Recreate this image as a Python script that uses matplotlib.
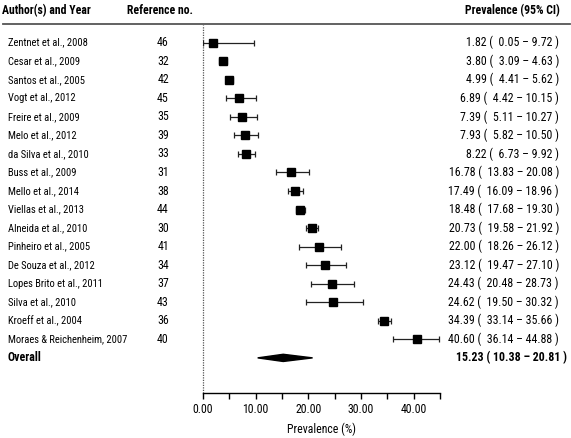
import matplotlib
matplotlib.use("Agg")
import matplotlib.pyplot as plt
from matplotlib.transforms import blended_transform_factory
from matplotlib.patches import Polygon
from matplotlib.lines import Line2D

plt.rcParams['font.family'] = ['Roboto Condensed', 'Liberation Sans', 'DejaVu Sans']

authors = ["Zentnet et al., 2008", "Cesar et al., 2009", "Santos et al., 2005",
           "Vogt et al., 2012", "Freire et al., 2009", "Melo et al., 2012",
           "da Silva et al., 2010", "Buss et al., 2009", "Mello et al., 2014",
           "Viellas et al., 2013", "Alneida et al., 2010", "Pinheiro et al., 2005",
           "De Souza et al., 2012", "Lopes Brito et al., 2011", "Silva et al., 2010",
           "Kroeff et al., 2004", "Moraes & Reichenheim, 2007"]
refs = ["46", "32", "42", "45", "35", "39", "33", "31", "38", "44", "30", "41",
        "34", "37", "43", "36", "40"]
est = [1.82, 3.80, 4.99, 6.89, 7.39, 7.93, 8.22, 16.78, 17.49, 18.48, 20.73,
       22.00, 23.12, 24.43, 24.62, 34.39, 40.60]
lo = [0.05, 3.09, 4.41, 4.42, 5.11, 5.82, 6.73, 13.83, 16.09, 17.68, 19.58,
      18.26, 19.47, 20.48, 19.50, 33.14, 36.14]
hi = [9.72, 4.63, 5.62, 10.15, 10.27, 10.50, 9.92, 20.08, 18.96, 19.30, 21.92,
      26.12, 27.10, 28.73, 30.32, 35.66, 44.88]
overall = (15.23, 10.38, 20.81)
xticks_major = [0, 10, 20, 30, 40]
xticks_minor = [5, 15, 25, 35, 45]

W, H = 571, 438
fig = plt.figure(figsize=(W / 100, H / 100), dpi=100)
ax_left, ax_right = 203 / W, 440 / W
ax_bottom = 1 - 393 / H
ax_top = 1 - 25 / H
ax = fig.add_axes([ax_left, ax_bottom, ax_right - ax_left, ax_top - ax_bottom])

row0, step = 42.7, 18.54
ax.set_ylim((393 - row0) / step, (25 - row0) / step)
ax.set_xlim(0, 45)

n = len(est)
ys = list(range(n))
xerr = [[e - l for e, l in zip(est, lo)], [h - e for e, h in zip(est, hi)]]
ax.errorbar(est, ys, xerr=xerr, fmt='s', color='black', ecolor='#222222',
            markersize=5.2, elinewidth=0.9, capsize=2.3, capthick=0.9, zorder=3)

oy = n
dh = 3.6 / step
poly = Polygon([(overall[1], oy), (overall[0], oy - dh), (overall[2], oy), (overall[0], oy + dh)],
               closed=True, color='black', zorder=3)
ax.add_patch(poly)

ax.axvline(0, color='#555555', ls=(0, (1, 1)), lw=0.9, clip_on=False)

for s in ['left', 'right', 'top']:
    ax.spines[s].set_visible(False)
ax.spines['bottom'].set_linewidth(1.0)
ax.set_yticks([])
ax.set_xticks(xticks_major)
ax.set_xticklabels([f"{v:.2f}" for v in xticks_major])
ax.set_xticks(xticks_minor, minor=True)
ax.tick_params(axis='x', which='both', length=4, width=1.0, direction='out', labelsize=8.5, pad=3)
ax.set_xlabel("Prevalence (%)", fontsize=8.5, labelpad=5)

tr = blended_transform_factory(fig.transFigure, ax.transData)
fs_a = 7.6
fs = 8.6
for i in range(n):
    ax.text(8 / W, i, authors[i], transform=tr, ha='left', va='center', fontsize=fs_a, clip_on=False)
    ax.text(163 / W, i, refs[i], transform=tr, ha='center', va='center', fontsize=fs, clip_on=False)
    ax.text(559 / W, i, f"{est[i]:.2f} (  {lo[i]:.2f} \u2013 {hi[i]:.2f} )", transform=tr,
            ha='right', va='center', fontsize=fs, clip_on=False)

ax.text(8 / W, oy, "Overall", transform=tr, ha='left', va='center', fontsize=fs,
        fontweight='bold', clip_on=False)
ax.text(567 / W, oy, f"{overall[0]:.2f} ( {overall[1]:.2f} \u2013 {overall[2]:.2f} )",
        transform=tr, ha='right', va='center', fontsize=fs, fontweight='bold', clip_on=False)

hy = 1 - 11 / H
fig.text(2 / W, hy, "Author(s) and Year", ha='left', va='center', fontsize=8.5, fontweight='bold')
fig.text(127 / W, hy, "Reference no.", ha='left', va='center', fontsize=8.5, fontweight='bold')
fig.text(560 / W, hy, "Prevalence (95% CI)", ha='right', va='center', fontsize=8.5, fontweight='bold')
fig.add_artist(Line2D([3 / W, 570 / W], [1 - 24 / H, 1 - 24 / H], transform=fig.transFigure,
                      color='#555555', lw=1.3))

fig.savefig("out.png", dpi=100)
